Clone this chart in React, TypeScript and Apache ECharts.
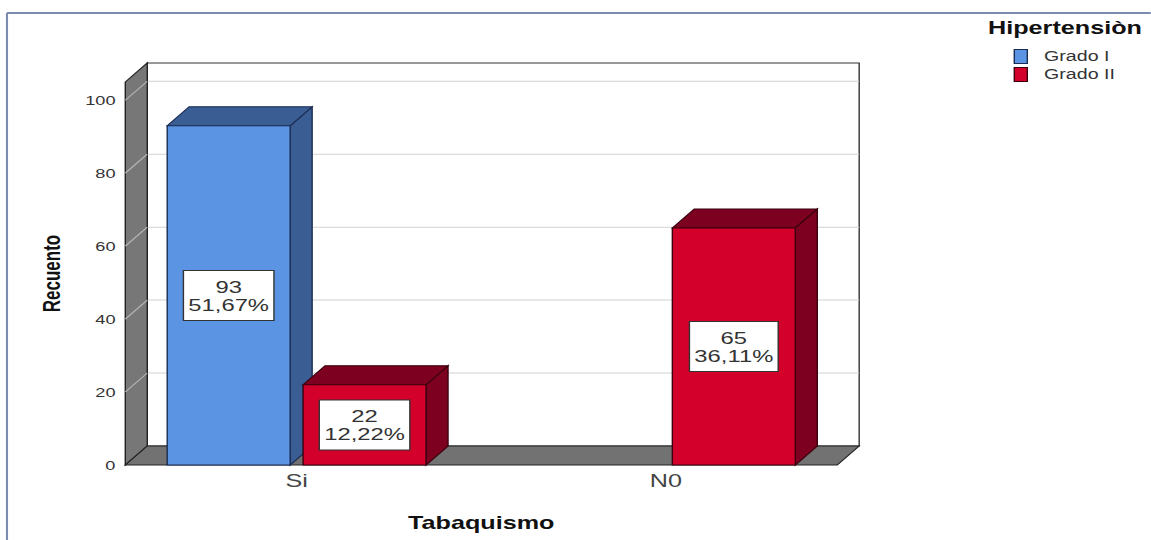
import React, { useEffect, useRef } from "react";
import * as echarts from "echarts";

// ---- data ----
const CATEGORIES = ["Si", "N0"];
const SERIES_NAMES = ["Grado I", "Grado II"];
const GRADO_I = [93, 0];
const GRADO_II = [22, 65];
const Y_TICKS = [0, 20, 40, 60, 80, 100];
const Y_MAX = 105;
const X_TITLE = "Tabaquismo";
const Y_TITLE = "Recuento";
const LEGEND_TITLE = "Hipertensiòn";

// ---- look ----
const STRETCH = 1.4; // the whole figure is drawn wide, like the exported SPSS picture
const HEIGHT = 540;
const WIDTH = 1151 / STRETCH;
const GRID = { left: 80, right: 214.5, top: 82, bottom: 75 };
const DEPTH_X = 15.7;
const DEPTH_Y = -19;
const BAR_FRAC = 0.333;
const BAR_OFFSETS = [-0.184, 0.184];
const FLOOR_PAD = 0.464;
const FONT = '"Liberation Sans", Arial, sans-serif';
const FRONT = ["#5a94e2", "#d3002b"];
const SHADE = ["#3a5d93", "#7e0020"];
const EDGE = ["#1b2c52", "#3a000e"];
const WALL = "#777777";
const FLOOR = "#727272";

const TOTAL = [...GRADO_I, ...GRADO_II].reduce((a, b) => a + b, 0);
const pct = (v: number) => ((v / TOTAL) * 100).toFixed(2).replace(".", ",") + "%";

const bandWidth = (WIDTH - GRID.left - GRID.right) / CATEGORIES.length;
const yAxisShift = -(0.5 - FLOOR_PAD) * bandWidth;

function wallsRenderer(_params: any, api: any) {
  const band = api.size([1, 0])[0];
  const left = api.coord([0, 0])[0] - FLOOR_PAD * band;
  const right = api.coord([CATEGORIES.length - 1, 0])[0] + FLOOR_PAD * band;
  const yb = api.coord([0, 0])[1];
  const yt = api.coord([0, Y_MAX])[1];
  const children: any[] = [];
  children.push({
    type: "rect",
    shape: { x: left + DEPTH_X, y: yt + DEPTH_Y, width: right - left, height: yb - yt },
    style: { fill: "#ffffff", stroke: "#333", lineWidth: 1 },
  });
  Y_TICKS.filter((t) => t > 0).forEach((t) => {
    const y = api.coord([0, t])[1];
    children.push({
      type: "line",
      shape: { x1: left + DEPTH_X, y1: y + DEPTH_Y, x2: right + DEPTH_X, y2: y + DEPTH_Y },
      style: { stroke: "#d2d2d2", lineWidth: 1 },
    });
  });
  children.push({
    type: "polygon",
    shape: {
      points: [
        [left, yt],
        [left + DEPTH_X, yt + DEPTH_Y],
        [left + DEPTH_X, yb + DEPTH_Y],
        [left, yb],
      ],
    },
    style: { fill: WALL, stroke: "#222", lineWidth: 1 },
  });
  Y_TICKS.filter((t) => t > 0).forEach((t) => {
    const y = api.coord([0, t])[1];
    children.push({
      type: "line",
      shape: { x1: left, y1: y, x2: left + DEPTH_X, y2: y + DEPTH_Y },
      style: { stroke: "#b4b4b4", lineWidth: 1 },
    });
  });
  children.push({
    type: "polygon",
    shape: {
      points: [
        [left, yb],
        [right, yb],
        [right + DEPTH_X, yb + DEPTH_Y],
        [left + DEPTH_X, yb + DEPTH_Y],
      ],
    },
    style: { fill: FLOOR, stroke: "#222", lineWidth: 1 },
  });
  return { type: "group", children };
}

function barRenderer(seriesIdx: number) {
  return (_params: any, api: any) => {
    const cat = api.value(0);
    const val = api.value(1);
    if (!val) return null;
    const band = api.size([1, 0])[0];
    const base = api.coord([cat, 0]);
    const top = api.coord([cat, val]);
    const w = BAR_FRAC * band;
    const cx = base[0] + BAR_OFFSETS[seriesIdx] * band;
    const x0 = cx - w / 2;
    const x1 = cx + w / 2;
    const y0 = top[1];
    const y1 = base[1];
    const edge = { stroke: EDGE[seriesIdx], lineWidth: 1 };
    return {
      type: "group",
      children: [
        {
          type: "polygon",
          shape: { points: [[x1, y0], [x1 + DEPTH_X, y0 + DEPTH_Y], [x1 + DEPTH_X, y1 + DEPTH_Y], [x1, y1]] },
          style: { fill: SHADE[seriesIdx], ...edge },
        },
        {
          type: "polygon",
          shape: { points: [[x0, y0], [x1, y0], [x1 + DEPTH_X, y0 + DEPTH_Y], [x0 + DEPTH_X, y0 + DEPTH_Y]] },
          style: { fill: SHADE[seriesIdx], ...edge },
        },
        {
          type: "rect",
          shape: { x: x0, y: y0, width: w, height: y1 - y0 },
          style: { fill: FRONT[seriesIdx], ...edge },
        },
        {
          type: "text",
          x: cx,
          y: (y0 + y1) / 2,
          style: {
            text: `${val}\n${pct(val)}`,
            align: "center",
            verticalAlign: "middle",
            fill: "#333",
            fontSize: 17,
            fontFamily: FONT,
            lineHeight: 18,
            backgroundColor: "#ffffff",
            borderColor: "#333",
            borderWidth: 1,
            padding: [7, 3, 6, 3],
          },
        },
      ],
    };
  };
}

const seriesValues = [GRADO_I, GRADO_II];

const option: any = {
  animation: false,
  backgroundColor: "#ffffff",
  grid: GRID,
  legend: {
    data: SERIES_NAMES,
    orient: "vertical",
    left: 724,
    top: 49,
    padding: 0,
    icon: "rect",
    itemWidth: 9.3,
    itemHeight: 14,
    itemGap: 3,
    itemStyle: { borderWidth: 1 },
    textStyle: { fontSize: 14, fontFamily: FONT, color: "#333", lineHeight: 14, padding: [0, 0, 0, 7] },
  },
  xAxis: {
    type: "category",
    data: CATEGORIES,
    name: X_TITLE,
    nameLocation: "middle",
    nameGap: 49,
    nameTextStyle: { fontSize: 18, fontWeight: "bold", fontFamily: FONT, color: "#111" },
    axisLine: { show: false },
    axisTick: { show: false },
    axisLabel: { fontSize: 18, fontFamily: FONT, color: "#444", margin: 7 },
    splitLine: { show: false },
  },
  yAxis: {
    type: "value",
    min: 0,
    max: Y_MAX,
    interval: 20,
    offset: yAxisShift,
    name: Y_TITLE,
    nameLocation: "middle",
    nameGap: 44,
    nameTextStyle: { fontSize: 17, fontWeight: "bold", fontFamily: FONT, color: "#111" },
    axisLine: { show: false },
    axisTick: { show: false },
    splitLine: { show: false },
    axisLabel: {
      fontSize: 13,
      fontFamily: FONT,
      color: "#333",
      margin: 7,
      showMaxLabel: false,
      formatter: (v: number) => (Y_TICKS.includes(v) ? String(v) : ""),
    },
  },
  graphic: [
    {
      type: "line",
      shape: { x1: 5, y1: 13, x2: WIDTH, y2: 13 },
      style: { stroke: "#7c8cae", lineWidth: 2 },
    },
    {
      type: "line",
      shape: { x1: 5, y1: 13, x2: 5, y2: HEIGHT },
      style: { stroke: "#7c8cae", lineWidth: 1.5 },
    },
    {
      type: "text",
      x: 760.7,
      y: 28,
      style: {
        text: LEGEND_TITLE,
        align: "center",
        verticalAlign: "middle",
        fontSize: 18,
        fontWeight: "bold",
        fontFamily: FONT,
        fill: "#111",
      },
    },
  ],
  series: [
    {
      type: "custom",
      name: "walls",
      z: 1,
      silent: true,
      clip: false,
      renderItem: wallsRenderer,
      data: [[0, 0]],
      encode: { x: 0, y: 1 },
    },
    ...SERIES_NAMES.map((name, i) => ({
      type: "custom",
      name,
      z: 2 + i,
      clip: false,
      itemStyle: { color: FRONT[i], borderColor: EDGE[i] },
      renderItem: barRenderer(i),
      data: seriesValues[i].map((v, c) => [c, v]),
      encode: { x: 0, y: 1 },
    })),
  ],
};

export default function App() {
  const ref = useRef<HTMLDivElement>(null);
  useEffect(() => {
    if (!ref.current) return;
    const chart = echarts.init(ref.current, null, { renderer: "svg" });
    chart.setOption(option);
    return () => chart.dispose();
  }, []);
  return (
    <div
      ref={ref}
      style={{
        position: "absolute",
        left: 0,
        top: 0,
        width: WIDTH,
        height: HEIGHT,
        transform: `scaleX(${STRETCH})`,
        transformOrigin: "0 0",
        background: "#ffffff",
      }}
    />
  );
}
